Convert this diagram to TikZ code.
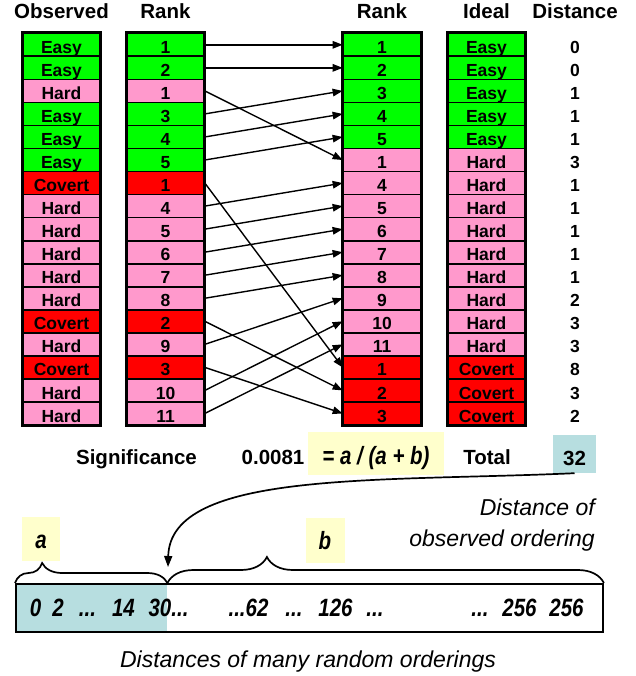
\documentclass[tikz,border=0pt]{standalone}
\usepackage{fontspec}
\setmainfont{Liberation Sans}
\newfontfamily\narrowsans[FakeStretch=0.82]{Liberation Sans}
\usetikzlibrary{arrows.meta,decorations.pathreplacing}
\definecolor{cEasy}{HTML}{00FF00}
\definecolor{cHard}{HTML}{FF99CC}
\definecolor{cCovert}{HTML}{FF0000}
\definecolor{cyell}{HTML}{FFFFCC}
\definecolor{cteal}{HTML}{B7DEE0}
\newcommand\headfont{\bfseries\fontsize{20.5pt}{24pt}\selectfont}
\newcommand\cellfont{\bfseries\fontsize{17.5pt}{20pt}\selectfont}
\newcommand\mathsfont{\narrowsans\bfseries\itshape\fontsize{25pt}{28pt}\selectfont}
\newcommand\notefont{\itshape\fontsize{23pt}{27pt}\selectfont}
\newcommand\dts{...}

\begin{document}
\begin{tikzpicture}[x=1pt, y=-1pt,
  cell/.style={rectangle, draw=black, line width=1.7pt, fill=#1, minimum width=77pt,
    minimum height=23.04pt, inner sep=0pt, text height=17.2pt, text depth=0pt, font=\cellfont},
  dist/.style={inner sep=0pt, minimum height=23.04pt, text height=17.2pt, text depth=0pt, font=\cellfont},
  frame/.style={draw=black, line width=2.4pt},
  head/.style={anchor=base, inner sep=0pt, font=\headfont},
  arr/.style={-{Triangle[length=10pt,width=7.5pt]}, line width=1.4pt},
  curv/.style={-{Triangle[length=11pt,width=8pt]}, line width=1.7pt},
  hilite/.style={fill=#1, inner sep=0pt, font=\mathsfont},
  brc/.style 2 args={decorate, decoration={brace, amplitude=#1, aspect=#2}, line width=1.7pt},
  note/.style={anchor=base east, inner sep=0pt, font=\notefont}
]
\useasboundingbox (0,0) rectangle (635,676);

\node[head] (hobs) at (61.5,18.3) {Observed};
\node[head] (hrkl) at (165.5,18.3) {Rank};
\node[head] (hrkr) at (382,18.3) {Rank};
\node[head] (hidl) at (486.5,18.3) {Ideal};
\node[head] (hdst) at (575,18.3) {Distance};

\foreach \t/\r [count=\i] in {Easy/1,Easy/2,Hard/1,Easy/3,Easy/4,Easy/5,Covert/1,Hard/4,Hard/5,
    Hard/6,Hard/7,Hard/8,Covert/2,Hard/9,Covert/3,Hard/10,Hard/11} {
  \node[cell=c\t] (obs\i) at (61.5,{33.3+23.04*(\i-0.5)}) {\t};
  \node[cell=c\t] (rkl\i) at (165.5,{33.3+23.04*(\i-0.5)}) {\r};
}
\foreach \t/\r/\d [count=\i] in {Easy/1/0,Easy/2/0,Easy/3/1,Easy/4/1,Easy/5/1,Hard/1/3,Hard/4/1,
    Hard/5/1,Hard/6/1,Hard/7/1,Hard/8/1,Hard/9/2,Hard/10/3,Hard/11/3,Covert/1/8,Covert/2/3,Covert/3/2} {
  \node[cell=c\t] (rkr\i) at (382,{33.3+23.04*(\i-0.5)}) {\r};
  \node[cell=c\t] (idl\i) at (486.5,{33.3+23.04*(\i-0.5)}) {\t};
  \node[dist] (dst\i) at (575,{33.3+23.04*(\i-0.5)}) {\d};
}
\foreach \col in {obs,rkl,rkr,idl}
  \draw[frame] (\col1.north west) rectangle (\col17.south east);

\foreach \i/\j in {1/1,2/2,3/6,4/3,5/4,6/5,7/15,8/7,9/8,10/9,11/10,12/11,13/16,14/12,15/17,16/13,17/14}
  \draw[arr] (rkl\i.east) -- (rkr\j.west);

\node[head] (sig) at (136.5,464) {Significance};
\node[head] (pval) at (273,464) {0.0081};
\node[hilite=cyell, minimum width=136pt, minimum height=43pt, text height=21pt, text depth=0pt] (frm) at (376,453.5) {= a / (a + b)};
\node[head] (tot) at (487,464) {Total};
\node[hilite=cteal, minimum width=43pt, minimum height=38pt, text height=22pt, text depth=0pt, font=\headfont] (sum) at (574.5,454) {32};

\node[note] (obs1note) at (595,515) {Distance of};
\node[note] (obs2note) at (595,546.7) {observed ordering};

\node[hilite=cyell, minimum width=38pt, minimum height=44pt, text height=18pt, text depth=0pt] (la) at (41,539) {a};
\node[hilite=cyell, minimum width=39pt, minimum height=45pt, text height=18pt, text depth=0pt] (lb) at (325,540.5) {b};

\node[fill=cteal, minimum width=152pt, minimum height=48pt, inner sep=0pt, anchor=north west] (low) at (15,583) {};
\node[draw=black, line width=1.9pt, minimum width=587pt, minimum height=48pt, inner sep=0pt, anchor=north west] (rng) at (15,583) {};
\draw[brc={20pt}{0.178}] (rng.north west) -- (low.north east);
\draw[brc={26pt}{0.228}] (low.north east) -- (rng.north east);

\coordinate (tip) at (168,567);
\draw[curv] (sum.south) .. controls (380,482) and (170,470) .. (tip);

\foreach \x/\v [count=\i] in {35.5/0,58/2,87.5/\dts,123.5/14,168.5/30\dts,248.5/\dts62,294/\dts,
    335.5/126,375/\dts,480/\dts,519.5/256,566.5/256}
  \node[anchor=base, inner sep=0pt, font=\mathsfont] (v\i) at (\x,616.5) {\v};

\node[anchor=base, inner sep=0pt, font=\notefont] (cap) at (308,667.3) {Distances of many random orderings};
\end{tikzpicture}
\end{document}
